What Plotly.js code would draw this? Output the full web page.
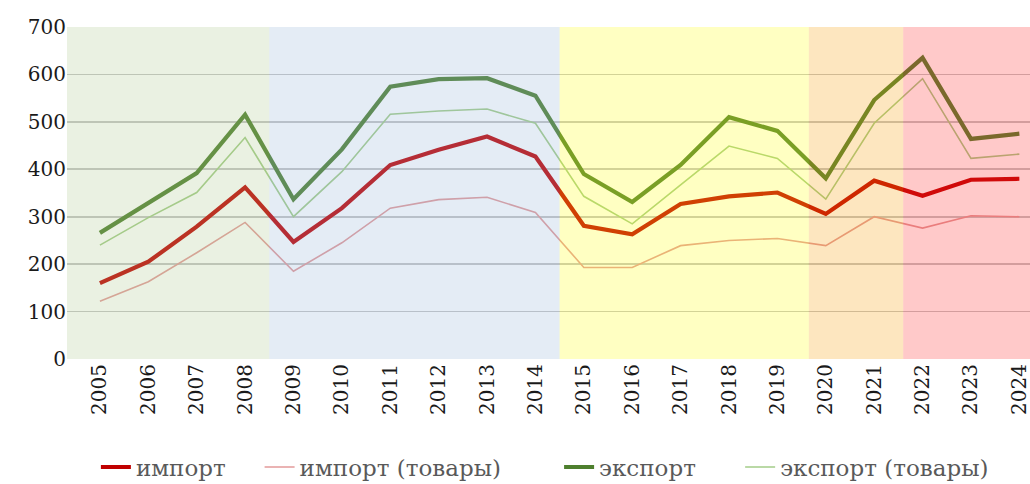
<!DOCTYPE html>
<html>
<head>
<meta charset="utf-8">
<script src="https://cdn.plot.ly/plotly-3.0.1.min.js"></script>
<style>
html,body{margin:0;padding:0;background:#fff;}
#chart{width:1030px;height:484px;}
</style>
</head>
<body>
<div id="chart"></div>
<script>
const years = ["2005","2006","2007","2008","2009","2010","2011","2012","2013","2014","2015","2016","2017","2018","2019","2020","2021","2022","2023","2024"];
const importTotal = [160,205,279,362,247,318,409,441,469,427,281,263,327,343,351,306,376,344,378,380];
const importGoods = [122,163,224,288,185,245,318,336,341,309,193,193,239,250,254,239,300,276,302,300];
const exportTotal = [266,329,392,515,337,442,574,590,592,555,390,331,409,510,481,381,546,635,464,475];
const exportGoods = [240,298,351,467,300,395,516,523,527,497,343,285,367,449,423,337,497,591,423,432];
const seriesNames = ["импорт","импорт (товары)","экспорт","экспорт (товары)"];
const yTicks = [0,100,200,300,400,500,600,700];
// period bands: [start, end] as category positions
const bands = [
  {x0:-0.7, x1:3.5,  color:"#abc78b"},
  {x0:3.5,  x1:9.5,  color:"#93b3d7"},
  {x0:9.5,  x1:14.65,color:"#ffff0b"},
  {x0:14.65,x1:16.6, color:"#f79b00"},
  {x0:16.6, x1:19.7, color:"#ff2828"}
];

const serif = "DejaVu Serif";

const traces = [
  {x:years, y:importTotal, name:seriesNames[0], type:"scatter", mode:"lines",
   line:{color:"#c00000", width:4.2}, legend:"legend"},
  {x:years, y:importGoods, name:seriesNames[1], type:"scatter", mode:"lines",
   line:{color:"#e39a9a", width:1.6}, legend:"legend2"},
  {x:years, y:exportTotal, name:seriesNames[2], type:"scatter", mode:"lines",
   line:{color:"#4e7f2e", width:4.2}, legend:"legend3"},
  {x:years, y:exportGoods, name:seriesNames[3], type:"scatter", mode:"lines",
   line:{color:"#a3cc88", width:1.6}, legend:"legend4"}
];

const legendBase = {orientation:"h", yref:"container", yanchor:"middle", y:0.035, xanchor:"left",
  bgcolor:"rgba(0,0,0,0)", font:{family:serif, size:23, color:"#595959"}};

const layout = {
  width:1030, height:484,
  margin:{l:67, r:0, t:27, b:125, autoexpand:false},
  paper_bgcolor:"#ffffff", plot_bgcolor:"#ffffff",
  showlegend:true,
  legend: Object.assign({}, legendBase, {x:0.030}),
  legend2: Object.assign({}, legendBase, {x:0.200}),
  legend3: Object.assign({}, legendBase, {x:0.511}),
  legend4: Object.assign({}, legendBase, {x:0.699}),
  xaxis:{type:"category", range:[-0.68,19.22], showgrid:false, zeroline:false,
    showline:false, ticks:"", tickangle:-90,
    tickfont:{family:serif, size:20, color:"#1a1a1a"}},
  yaxis:{range:[0,700], tickvals:yTicks, showgrid:true, gridcolor:"#c4c4c4", gridwidth:1.6,
    zeroline:false, showline:false, ticks:"",
    tickfont:{family:serif, size:20, color:"#1a1a1a"}},
  shapes: bands.map(b => ({type:"rect", xref:"x", yref:"paper", x0:b.x0, x1:b.x1, y0:0, y1:1,
    fillcolor:b.color, opacity:0.25, line:{width:0}, layer:"above"}))
};

Plotly.newPlot("chart", traces, layout, {displayModeBar:false, staticPlot:true});
</script>
</body>
</html>
